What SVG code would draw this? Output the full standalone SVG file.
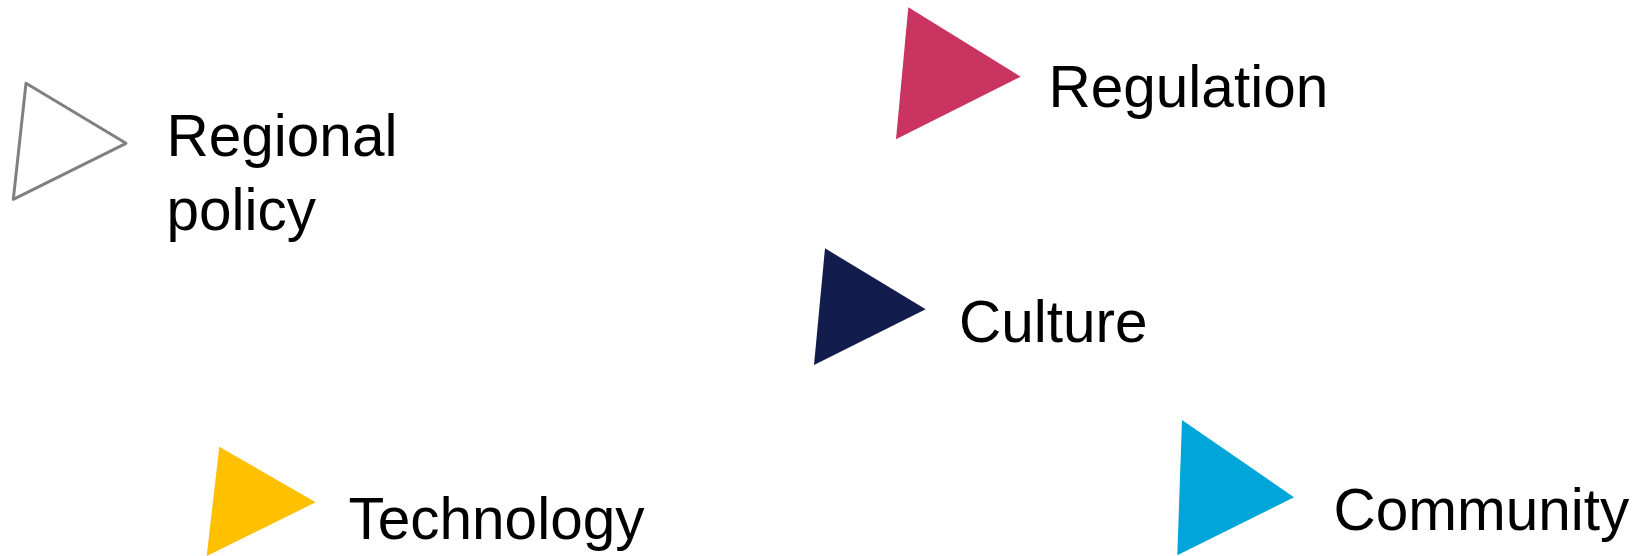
<svg xmlns="http://www.w3.org/2000/svg" width="1637" height="556" viewBox="0 0 1637 556">
<style>
text{font-family:"Liberation Sans",Arial,sans-serif;font-size:58.5px;fill:#000}
</style>
<rect width="1637" height="556" fill="#fff"/>
<g id="regional-policy">
<polygon points="26,83.3 126,143.3 13.3,199.3" fill="#fff" stroke="#808080" stroke-width="3" stroke-linejoin="round"/>
<text x="166.5" y="156">Regional</text>
<text x="166.5" y="229.5">policy</text>
</g>
<g id="regulation">
<polygon points="908.3,7.3 1020.7,76.7 896,139.3" fill="#CA3460"/>
<text x="1048.5" y="106.8">Regulation</text>
</g>
<g id="culture">
<polygon points="825,248.3 925.7,309.3 814,365" fill="#121D4E"/>
<text x="959" y="342">Culture</text>
</g>
<g id="technology">
<polygon points="219.3,446.7 315.7,502.3 206.7,556" fill="#FFC000"/>
<text x="348.5" y="538.5">Technology</text>
</g>
<g id="community">
<polygon points="1182,420 1294,497.3 1177.3,555.3" fill="#00A6D9"/>
<text x="1333.5" y="530">Community</text>
</g>
<g id="connectors"></g>
</svg>
